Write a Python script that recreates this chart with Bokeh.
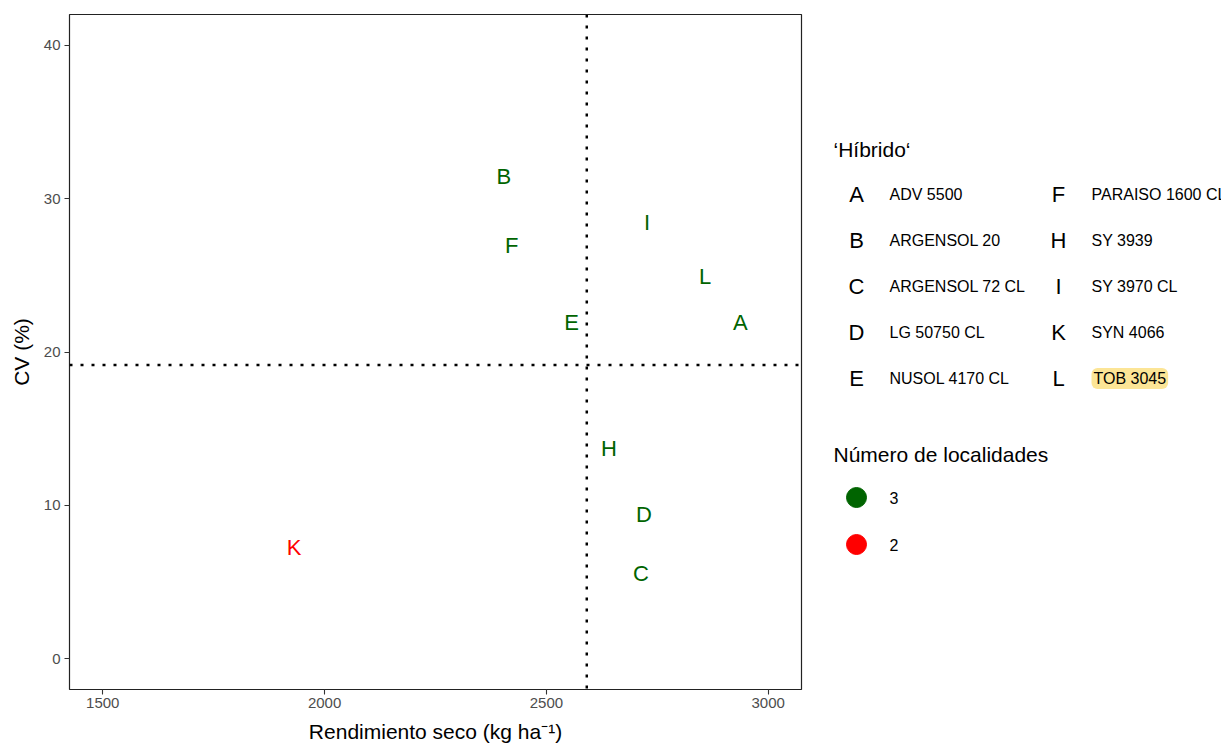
from bokeh.plotting import figure
from bokeh.models import Range1d, Span, ColumnDataSource, FixedTicker
from bokeh.layouts import row
from bokeh.core.properties import value
from bokeh.embed import file_html
from bokeh.resources import INLINE

FONT = "Liberation Sans"

# Hybrids: plot letter, name, mean dry yield (kg/ha), CV (%), number of locations
letras = ["A", "B", "C", "D", "E", "F", "H", "I", "K", "L"]
hibridos = ["ADV 5500", "ARGENSOL 20", "ARGENSOL 72 CL", "LG 50750 CL",
            "NUSOL 4170 CL", "PARAISO 1600 CL", "SY 3939", "SY 3970 CL",
            "SYN 4066", "TOB 3045"]
rendimiento = [2937, 2404, 2713, 2720, 2557, 2422, 2641, 2727, 1931, 2858]
cv = [21.95, 31.47, 5.54, 9.38, 21.95, 26.97, 13.68, 28.47, 7.23, 24.95]
localidades = [3, 3, 3, 3, 3, 3, 3, 3, 2, 3]

niveles_loc = [3, 2]
colores_loc = ["#006400", "#FF0000"]
color_de = dict(zip(niveles_loc, colores_loc))

x_ticks = [1500, 2000, 2500, 3000]
y_ticks = [0, 10, 20, 30, 40]

# quadrant reference lines at the means
rend_medio = sum(rendimiento) / len(rendimiento)
cv_medio = sum(cv) / len(cv)

src = ColumnDataSource(dict(
    x=rendimiento, y=cv, letra=letras,
    color=[color_de[n] for n in localidades],
))

BORDER_TOP, BORDER_BOTTOM = 14, 60
H = 749

p = figure(width=820, height=H, output_backend="svg", toolbar_location=None,
           x_range=Range1d(1425, 3075), y_range=Range1d(-2, 42),
           min_border_left=69, min_border_right=19,
           min_border_top=BORDER_TOP, min_border_bottom=BORDER_BOTTOM)
p.background_fill_color = "white"
p.border_fill_color = "white"
p.outline_line_color = "#222222"
p.outline_line_width = 1.2
p.xgrid.visible = False
p.ygrid.visible = False

for ax, ticks in ((p.xaxis, x_ticks), (p.yaxis, y_ticks)):
    ax.ticker = FixedTicker(ticks=ticks)
    ax.axis_line_color = None
    ax.major_tick_line_color = "#333333"
    ax.major_tick_line_width = 1.1
    ax.major_tick_in = 0
    ax.major_tick_out = 5
    ax.minor_tick_line_color = None
    ax.major_label_text_font = FONT
    ax.major_label_text_font_size = "15px"
    ax.major_label_text_color = "#4D4D4D"
    ax.axis_label_text_font = FONT
    ax.axis_label_text_font_size = "21px"
    ax.axis_label_text_font_style = "normal"
    ax.axis_label_text_color = "black"

p.xaxis.major_label_standoff = 3
p.yaxis.major_label_standoff = 4
p.xaxis.axis_label = "Rendimiento seco (kg ha\u207b\u00b9)"
p.yaxis.axis_label = "CV (%)"
p.xaxis.axis_label_standoff = 9
p.yaxis.axis_label_standoff = 8

for loc, dim in ((rend_medio, "height"), (cv_medio, "width")):
    p.add_layout(Span(location=loc, dimension=dim, line_color="black",
                      line_width=2.5, line_dash="3 8"))

p.text(x="x", y="y", text="letra", source=src, text_color="color",
       text_font=value(FONT), text_font_size="22px",
       text_align="center", text_baseline="middle")

# ---- legend panel (its frame lines up with the main frame; ranges are in page pixels) ----
leg = figure(width=401, height=H, output_backend="svg", toolbar_location=None,
             x_range=Range1d(820, 1221), y_range=Range1d(H - BORDER_BOTTOM, BORDER_TOP),
             min_border_left=0, min_border_right=0,
             min_border_top=BORDER_TOP, min_border_bottom=BORDER_BOTTOM,
             outline_line_color=None)
leg.axis.visible = False
leg.grid.visible = False
leg.background_fill_color = "white"
leg.border_fill_color = "white"

leg.text(x=[833], y=[149], text=["\u2018H\u00edbrido\u2018"], text_font=value(FONT),
         text_font_size="21px", text_color="black", text_baseline="middle")

filas = 5
col_x = [856, 1058]
fila_y0, fila_dy = 194, 46
key_x, key_y, lab_x = [], [], []
for i, _ in enumerate(letras):
    c, r = divmod(i, filas)
    key_x.append(col_x[c])
    key_y.append(fila_y0 + r * fila_dy)
    lab_x.append(col_x[c] + 33)

leg.text(x=key_x, y=key_y, text=letras, text_font=value(FONT),
         text_font_size="22px", text_color="black",
         text_align="center", text_baseline="middle")

resaltado = "TOB 3045"
normales = [i for i, h in enumerate(hibridos) if h != resaltado]
leg.text(x=[lab_x[i] for i in normales], y=[key_y[i] for i in normales],
         text=[hibridos[i] for i in normales], text_font=value(FONT),
         text_font_size="16px", text_color="black", text_baseline="middle")
j = hibridos.index(resaltado)
leg.text(x=[lab_x[j]], y=[key_y[j]], text=[resaltado], text_font=value(FONT),
         text_font_size="16px", text_color="black", text_baseline="middle",
         background_fill_color="#FCE596", border_radius=6, padding=[2, 2])

leg.text(x=[833], y=[454], text=["N\u00famero de localidades"], text_font=value(FONT),
         text_font_size="21px", text_color="black", text_baseline="middle")
loc_y = [497 + k * 47 for k in range(len(niveles_loc))]
leg.scatter(x=[856] * len(niveles_loc), y=loc_y, size=20, color=colores_loc)
leg.text(x=[889] * len(niveles_loc), y=loc_y, text=[str(n) for n in niveles_loc],
         text_font=value(FONT), text_font_size="16px", text_color="black",
         text_baseline="middle")

layout = row(p, leg)
open("out.html", "w").write(file_html(layout, INLINE))
